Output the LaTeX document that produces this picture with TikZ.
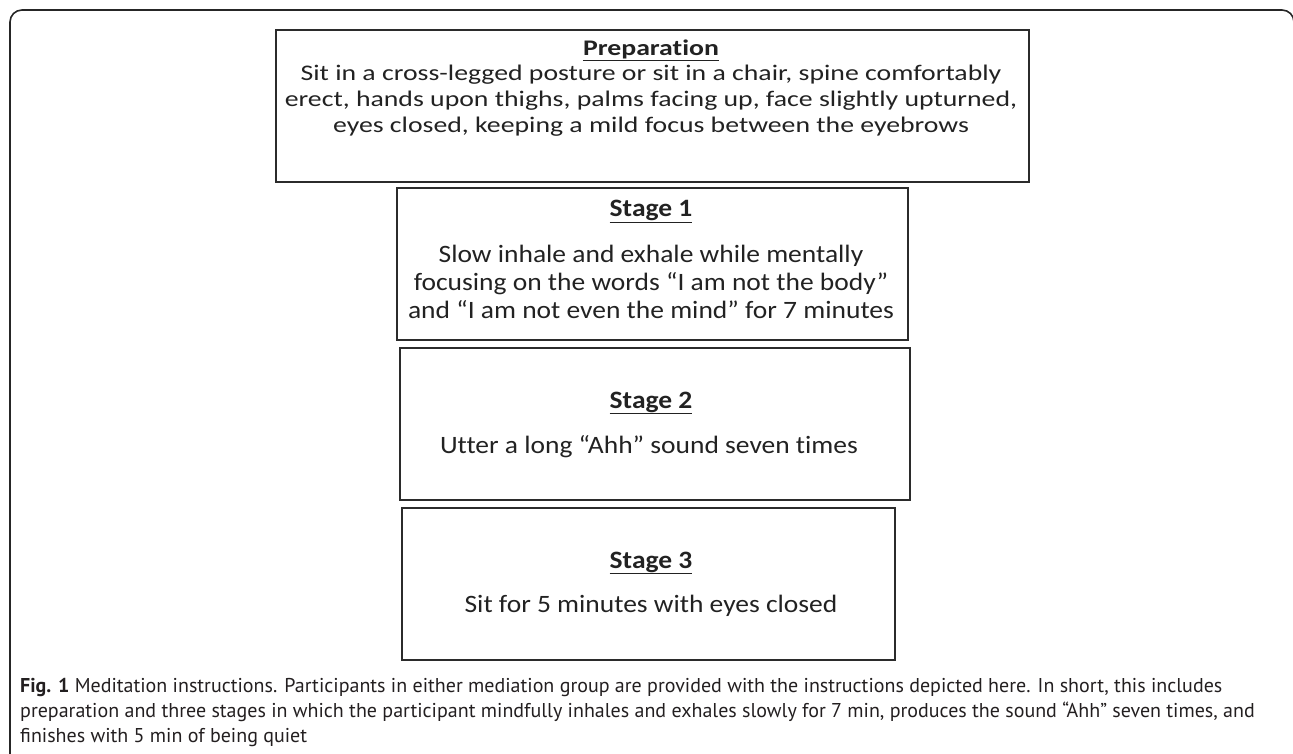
\documentclass[tikz,border=0pt]{standalone}
\usepackage{fontspec}
\newfontfamily\prepfont{Carlito}[FakeStretch=1.245, Ligatures=NoCommon]
\newfontfamily\stagefont{Carlito}[FakeStretch=1.1, Ligatures=NoCommon]
\newfontfamily\capfont{PT Sans}
\definecolor{boxline}{HTML}{2B2B2B}
\definecolor{txt}{HTML}{222222}
\definecolor{captxt}{HTML}{231F20}
\tikzset{
  stagebox/.style={draw=boxline, line width=1.6pt, inner sep=0pt, anchor=north west},
  preptext/.style={anchor=base, inner sep=0pt, text=txt, font=\prepfont\fontsize{22.3}{26}\selectfont},
  prephead/.style={preptext, font=\prepfont\bfseries\fontsize{22.3}{26}\selectfont},
  stagetext/.style={anchor=base, inner sep=0pt, text=txt, font=\stagefont\fontsize{25}{28}\selectfont},
  stagehead/.style={stagetext, font=\stagefont\bfseries\fontsize{25}{28}\selectfont},
  ulline/.style={draw=txt, line width=1.6pt},
  captext/.style={anchor=base west, inner sep=0pt, text=captxt, font=\capfont\fontsize{20}{25}\selectfont},
  frameline/.style={draw=black!85, line width=1.6pt, rounded corners=12pt}
}
\begin{document}
\begin{tikzpicture}[x=1pt,y=-1pt]
\useasboundingbox (0,0) rectangle (1293,754);
% outer frame
\coordinate (fbl) at (10,770);
\coordinate (ftl) at (10,10);
\coordinate (ftr) at (1294,10);
\coordinate (fbr) at (1294,770);
\draw[frameline] (fbl) -- (ftl) -- (ftr) -- (fbr);
% boxes
\node[stagebox, minimum width=753pt, minimum height=152pt] (prep) at (275,29) {};
\node[stagebox, minimum width=511pt, minimum height=152pt] (s1) at (396,187) {};
\node[stagebox, minimum width=510pt, minimum height=152pt] (s2) at (399,347) {};
\node[stagebox, minimum width=493pt, minimum height=152pt] (s3) at (401,507) {};
% preparation
\node[prephead] (preph) at (651,56) {Preparation};
\draw[ulline] ([yshift=-4.5pt]preph.base west) -- ([yshift=-4.5pt]preph.base east);
\node[preptext] (prepa) at (651,81) {Sit in a cross-legged posture or sit in a chair, spine comfortably};
\node[preptext] (prepb) at (651,107) {erect, hands upon thighs, palms facing up, face slightly upturned,};
\node[preptext] (prepc) at (651,133) {eyes closed, keeping a mild focus between the eyebrows};
% stage 1
\node[stagehead] (s1h) at (651,217) {Stage 1};
\draw[ulline] ([yshift=-5.5pt]s1h.base west) -- ([yshift=-5.5pt]s1h.base east);
\node[stagetext] (s1a) at (651,262) {Slow inhale and exhale while mentally};
\node[stagetext] (s1b) at (651,290) {focusing on the words “I am not the body”};
\node[stagetext] (s1c) at (651,318) {and “I am not even the mind” for 7 minutes};
% stage 2
\node[stagehead] (s2h) at (651,408) {Stage 2};
\draw[ulline] ([yshift=-5.5pt]s2h.base west) -- ([yshift=-5.5pt]s2h.base east);
\node[stagetext] (s2a) at (649,453) {Utter a long “Ahh” sound seven times};
% stage 3
\node[stagehead] (s3h) at (651,568) {Stage 3};
\draw[ulline] ([yshift=-5.5pt]s3h.base west) -- ([yshift=-5.5pt]s3h.base east);
\node[stagetext] (s3a) at (651,612) {Sit for 5 minutes with eyes closed};
% caption
\node[captext] (cap1) at (20,692) {\textbf{Fig. 1} Meditation instructions. Participants in either mediation group are provided with the instructions depicted here. In short, this includes};
\node[captext] (cap2) at (20,717) {preparation and three stages in which the participant mindfully inhales and exhales slowly for 7 min, produces the sound “Ahh” seven times, and};
\node[captext] (cap3) at (20,742) {finishes with 5 min of being quiet};
\end{tikzpicture}
\end{document}
